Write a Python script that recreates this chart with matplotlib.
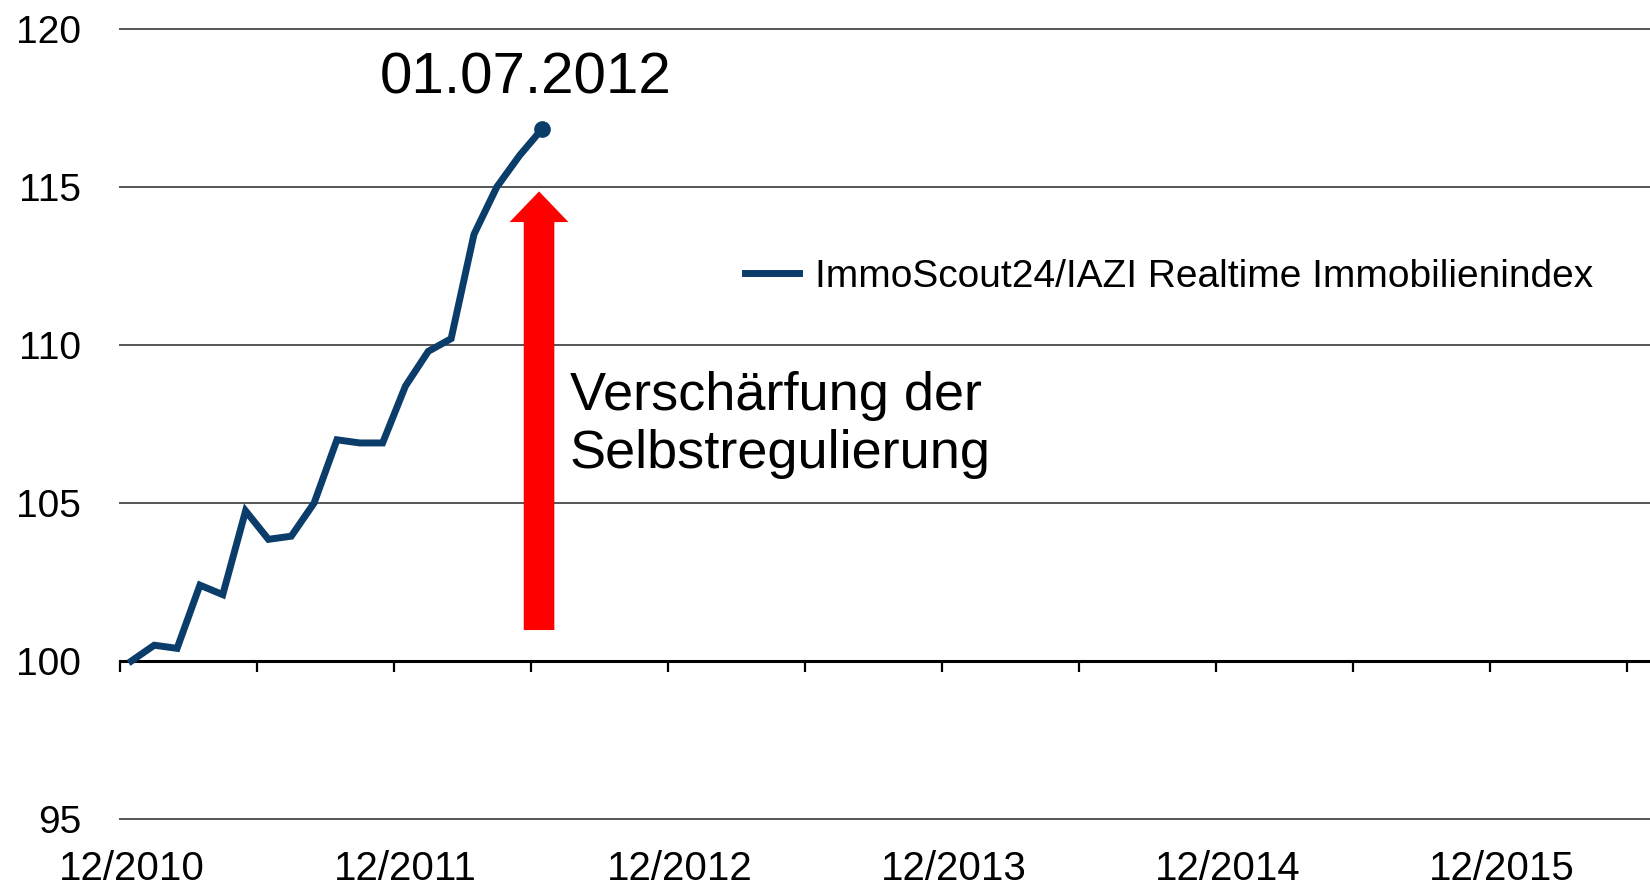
import numpy as np
import pandas as pd
import matplotlib
matplotlib.use("Agg")
import matplotlib.pyplot as plt
from matplotlib.patches import FancyArrow

# monthly category axis 12/2010 .. 06/2016
months = pd.period_range("2010-12", periods=67, freq="M")
month_labels = [p.strftime("%m/%Y") for p in months]

# ImmoScout24/IAZI index, monthly from 12/2010
index_values = [100.0, 100.5, 100.4, 102.4, 102.1, 104.75, 103.85, 103.95, 105.0,
                107.0, 106.9, 106.9, 108.7, 109.8, 110.2, 113.5, 115.0, 116.0, 116.85]

y_ticks = [95, 100, 105, 110, 115, 120]
series_name = "ImmoScout24/IAZI Realtime Immobilienindex"
last_date = "01.07.2012"
arrow_text = "Verschärfung der\nSelbstregulierung"

line_color = "#0b3d6b"

plt.rcParams["font.family"] = ["Liberation Sans", "DejaVu Sans"]

fig = plt.figure(figsize=(16.5, 8.9), dpi=100)
ax = fig.add_axes([120 / 1650, 1 - 819 / 890, 1 - 120 / 1650, (819 - 29) / 890])

x = np.arange(len(index_values))
ax.plot(x, index_values, color=line_color, lw=5, solid_joinstyle="miter",
        label=series_name, zorder=4)
ax.plot(x[-1], index_values[-1], "o", color=line_color, ms=11, zorder=5)

ax.set_xlim(-0.5, len(months) - 0.5)
ax.set_ylim(95, 120)

# y axis
ax.set_yticks(y_ticks)
ax.tick_params(axis="y", length=0, pad=28, labelsize=28)
ax.yaxis.grid(True, color="#555555", lw=1.4)
for gl in ax.get_ygridlines():
    gl.set_clip_on(False)

for s in ["top", "right", "left"]:
    ax.spines[s].set_visible(False)
ax.spines["bottom"].set_position(("data", 100))
ax.spines["bottom"].set_linewidth(2.2)
ax.spines["bottom"].set_color("black")
ax.spines["bottom"].set_zorder(3)

# tick marks every 6 months between categories
ax.set_xticks(np.arange(-0.5, len(months), 6))
ax.tick_params(axis="x", direction="out", length=8, width=1.6, labelbottom=False)

# year labels at the bottom
sec = ax.secondary_xaxis(0)
sec.set_xticks(np.arange(0, len(months), 12), labels=month_labels[::12])
sec.tick_params(length=0, pad=22, labelsize=29)
sec.spines["bottom"].set_visible(False)

# red arrow
ax.add_patch(FancyArrow(17.85, 100.98, 0, 13.88, width=1.34, head_width=2.58,
                        head_length=0.97, length_includes_head=True,
                        color="#ff0000", lw=0, zorder=3))

ax.text(17.25, 118.42, last_date, fontsize=42, ha="center", va="center")
ax.text(19.2, 106.1, arrow_text, fontsize=39, ha="left", va="baseline",
        linespacing=1.2)

ax.legend(loc="center left", bbox_to_anchor=(745 / 1650, 1 - 277 / 890),
          bbox_transform=fig.transFigure, frameon=False, fontsize=28,
          handlelength=1.4, handletextpad=0.4, borderpad=0, borderaxespad=0)

fig.savefig("out.png", dpi=100)
